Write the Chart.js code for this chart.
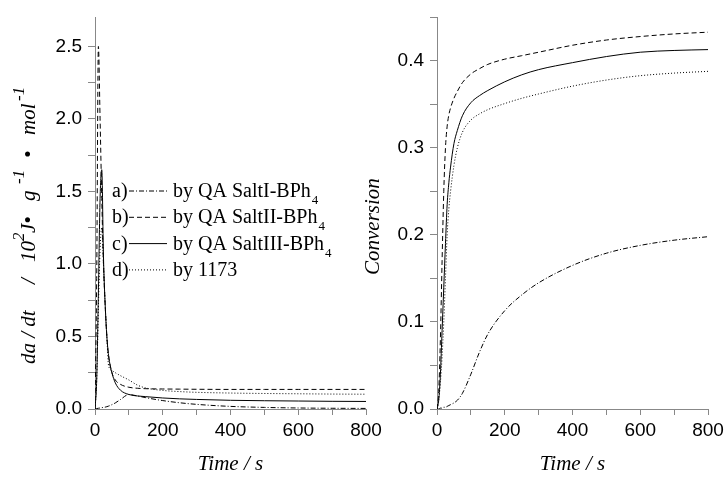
<!DOCTYPE html>
<html>
<head>
<meta charset="utf-8">
<script src="https://cdn.jsdelivr.net/npm/chart.js@4.4.0/dist/chart.umd.min.js"></script>
<style>
  body { margin: 0; background: #fff; }
  #wrap { position: relative; width: 728px; height: 477px; }
  #rateBox { position: absolute; left: 0; top: 0; width: 390px; height: 477px; }
  #convBox { position: absolute; left: 350px; top: 0; width: 378px; height: 477px; }
</style>
</head>
<body>
<div id="wrap">
  <div id="rateBox"><canvas id="rateChart" width="390" height="477"></canvas></div>
  <div id="convBox"><canvas id="convChart" width="378" height="477"></canvas></div>
</div>
<script>
// time grid (s), shared by all curves
const times = [0, 5, 10, 15, 20, 25, 30, 35, 40, 50, 60, 75, 100, 125, 150, 200, 250, 300, 400, 500, 600, 700, 800];

// heat flow rate, da/dt (10^2 J g^-1 mol^-1)
const rateA = [0, 0.003, 0.005, 0.007, 0.009, 0.011, 0.013, 0.016, 0.02, 0.03, 0.042, 0.065, 0.1, 0.09, 0.078, 0.058, 0.043, 0.032, 0.018, 0.011, 0.007, 0.005, 0.004];
const rateB = [0, 0.9, 2.5, 2.0, 1.45, 1.0, 0.72, 0.5, 0.37, 0.25, 0.2, 0.17, 0.15, 0.143, 0.14, 0.138, 0.137, 0.136, 0.135, 0.135, 0.135, 0.135, 0.135];
const rateC = [0, 0.2, 0.8, 1.45, 1.65, 1.05, 0.72, 0.5, 0.37, 0.25, 0.18, 0.13, 0.1, 0.09, 0.085, 0.076, 0.07, 0.066, 0.06, 0.057, 0.055, 0.053, 0.052];
const rateD = [0, 0.2, 0.7, 1.1, 1.25, 1.0, 0.72, 0.5, 0.3, 0.265, 0.25, 0.23, 0.2, 0.165, 0.145, 0.128, 0.12, 0.115, 0.11, 0.107, 0.105, 0.103, 0.102];

// conversion
const convA = [0, 0, 0.001, 0.001, 0.002, 0.002, 0.003, 0.004, 0.005, 0.007, 0.01, 0.018, 0.04, 0.065, 0.086, 0.113, 0.131, 0.145, 0.165, 0.179, 0.188, 0.194, 0.198];
const convB = [0, 0.02, 0.08, 0.17, 0.25, 0.3, 0.325, 0.338, 0.346, 0.357, 0.365, 0.375, 0.385, 0.391, 0.396, 0.402, 0.406, 0.41, 0.418, 0.424, 0.428, 0.431, 0.433];
const convC = [0, 0.01, 0.04, 0.09, 0.14, 0.19, 0.235, 0.26, 0.278, 0.305, 0.32, 0.337, 0.352, 0.36, 0.366, 0.376, 0.384, 0.39, 0.398, 0.405, 0.41, 0.412, 0.413];
const convD = [0, 0.01, 0.03, 0.06, 0.1, 0.15, 0.2, 0.23, 0.25, 0.28, 0.3, 0.318, 0.332, 0.339, 0.344, 0.351, 0.357, 0.362, 0.371, 0.378, 0.383, 0.386, 0.388];

const legendTags = ['a)', 'b)', 'c)', 'd)'];
const seriesNames = ['by QA SaltI-BPh', 'by QA SaltII-BPh', 'by QA SaltIII-BPh', 'by 1173'];
const seriesSubs = ['4', '4', '4', ''];
const dashes = [[5, 2, 1, 2], [5, 3], [], [1, 2]];

const axisColor = '#888';
const tickFont = { family: '"Liberation Sans", Arial, sans-serif', size: 19 };
const titleFont = { family: '"Liberation Serif", "Times New Roman", serif', size: 21, style: 'italic' };

function pairs(ys) {
    return times.map((t, i) => ({ x: t, y: ys[i] }));
}

function makeDatasets(series) {
    return series.map((ys, i) => ({
        label: legendTags[i] + ' ' + seriesNames[i] + seriesSubs[i],
        data: pairs(ys),
        borderColor: '#000',
        borderWidth: 1,
        borderDash: dashes[i],
        pointRadius: 0,
        fill: false,
        cubicInterpolationMode: 'monotone'
    }));
}

function xAxis() {
    return {
        type: 'linear', min: 0, max: 800,
        grid: { drawOnChartArea: false, drawTicks: true, tickLength: 6, color: axisColor },
        border: { color: axisColor },
        ticks: { stepSize: 100, autoSkip: false, maxRotation: 0, includeBounds: false, font: tickFont, color: '#000', padding: 4,
                 callback: v => (v % 200 === 0 ? String(v) : '') },
        title: { display: true, text: 'Time / s', font: titleFont, color: '#000', padding: 0 },
        afterFit: s => { s.height = 68; }
    };
}

function yAxis(max, step, labelStep, width) {
    return {
        min: 0, max: max,
        grid: { drawOnChartArea: false, drawTicks: true, tickLength: 7, color: axisColor },
        border: { color: axisColor },
        ticks: { stepSize: step, autoSkip: false, includeBounds: false, font: tickFont, color: '#000', padding: 6,
                 callback: v => {
                     const k = v / labelStep;
                     return Math.abs(k - Math.round(k)) < 1e-6 ? v.toFixed(1) : '';
                 } },
        afterFit: s => { s.width = width; }
    };
}

// rotated y title; each piece sits at its own offset along the axis
const yTitlePlugin = {
    id: 'yTitle',
    afterDraw(chart, args, opts) {
        const ctx = chart.ctx;
        ctx.save();
        ctx.translate(opts.x, opts.y);
        ctx.rotate(-Math.PI / 2);
        ctx.fillStyle = '#000';
        ctx.textBaseline = 'middle';
        opts.pieces.forEach(p => {
            const size = p.sup ? 17 : 21;
            ctx.font = 'italic ' + size + 'px "Liberation Serif", serif';
            ctx.fillText(p.t, p.at, p.sup ? -9 : 0);
        });
        ctx.restore();
    }
};

const legendPlugin = {
    id: 'sideLegend',
    afterDraw(chart) {
        const ctx = chart.ctx;
        const area = chart.chartArea;
        ctx.save();
        ctx.fillStyle = '#000';
        ctx.textBaseline = 'alphabetic';
        chart.data.datasets.forEach((ds, i) => {
            const y = 197 + i * 26.3;
            const x0 = area.left + 17;
            ctx.font = '20px "Liberation Serif", serif';
            ctx.fillText(legendTags[i], x0, y);
            ctx.beginPath();
            ctx.setLineDash(ds.borderDash);
            ctx.strokeStyle = '#000';
            ctx.lineWidth = 1;
            ctx.moveTo(x0 + 17, y - 6);
            ctx.lineTo(x0 + 55, y - 6);
            ctx.stroke();
            ctx.setLineDash([]);
            const tx = x0 + 61;
            ctx.fillText(seriesNames[i], tx, y);
            if (seriesSubs[i]) {
                const w = ctx.measureText(seriesNames[i]).width;
                ctx.font = '13px "Liberation Serif", serif';
                ctx.fillText(seriesSubs[i], tx + w + 1, y + 7);
            }
        });
        ctx.restore();
    }
};

new Chart(document.getElementById('rateChart'), {
    type: 'line',
    data: { datasets: makeDatasets([rateA, rateB, rateC, rateD]) },
    options: {
        responsive: false, animation: false, devicePixelRatio: 1,
        layout: { padding: { top: 12, right: 24, left: 0, bottom: 0 } },
        plugins: {
            legend: { display: false }, tooltip: { enabled: false },
            yTitle: { x: 29, y: 364, pieces: [
                { t: 'da / dt', at: 0 }, { t: '/', at: 80 }, { t: '10', at: 102 }, { t: '2', at: 123, sup: true },
                { t: 'J\u2022', at: 131 }, { t: 'g', at: 163 }, { t: '-1', at: 180, sup: true },
                { t: '\u2022', at: 206 }, { t: 'mol', at: 229 }, { t: '-1', at: 263, sup: true }] }
        },
        scales: { x: xAxis(), y: yAxis(2.7, 0.25, 0.5, 95) }
    },
    plugins: [yTitlePlugin, legendPlugin]
});

new Chart(document.getElementById('convChart'), {
    type: 'line',
    data: { datasets: makeDatasets([convA, convB, convC, convD]) },
    options: {
        responsive: false, animation: false, devicePixelRatio: 1,
        layout: { padding: { top: 12, right: 20, left: 0, bottom: 0 } },
        plugins: {
            legend: { display: false }, tooltip: { enabled: false },
            yTitle: { x: 23, y: 275, pieces: [{ t: 'Conversion', at: 0 }] }
        },
        scales: { x: xAxis(), y: yAxis(0.45, 0.05, 0.1, 87) }
    },
    plugins: [yTitlePlugin]
});
</script>
</body>
</html>
